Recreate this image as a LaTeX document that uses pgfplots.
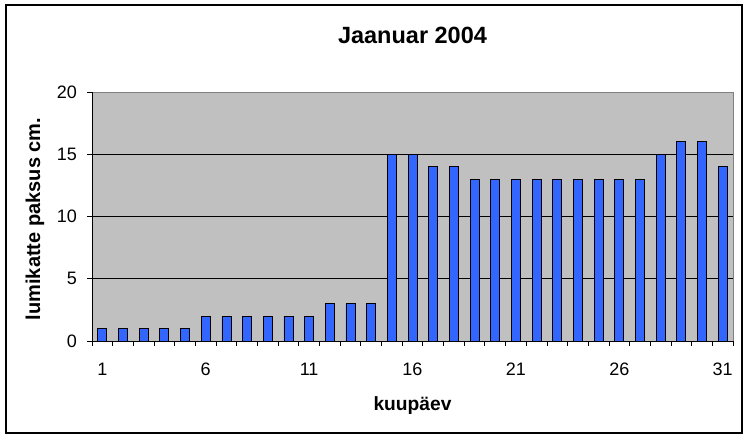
\documentclass[border=0pt]{standalone}
\usepackage{fontspec}
\setmainfont{Liberation Sans}
\usepackage{pgfplots}
\pgfplotsset{compat=1.18}
\definecolor{plotgray}{RGB}{192,192,192}
\definecolor{bordergray}{RGB}{128,128,128}
\definecolor{barblue}{RGB}{51,102,255}
\begin{document}
\begin{tikzpicture}[x=1pt,y=1pt]
\useasboundingbox (0,0) rectangle (748,438);
\draw[line width=1.2pt] (6,5) rectangle (742,433);
\begin{axis}[
  at={(92pt,97pt)}, anchor=south west,
  scale only axis, width=641pt, height=249pt,
  xmin=0.5, xmax=31.5, ymin=0, ymax=20,
  axis x line*=bottom, axis y line*=left,
  axis line style={black, line width=0.8pt},
  axis background/.style={fill=plotgray, draw=bordergray, line width=0.8pt},
  tick align=outside,
  xtick={0.5,1.5,...,31.5}, xticklabels={},
  extra x ticks={1,6,11,16,21,26,31},
  extra x tick labels={1,6,11,16,21,26,31},
  extra x tick style={major tick length=0pt},
  major tick length=5pt,
  ytick={0,5,10,15}, extra y ticks={20}, extra y tick style={ymajorgrids=false},
  ymajorgrids, grid style={black, line width=0.8pt},
  tick style={black, line width=0.8pt},
  /pgf/number format/assume math mode=true,
  xticklabel style={font=\fontsize{18}{20}\selectfont, anchor=base, yshift=-35pt, inner sep=0pt},
  yticklabel style={font=\fontsize{18}{20}\selectfont, anchor=east, inner sep=0pt, xshift=-10pt},
  title={Jaanuar 2004},
  title style={font=\bfseries\fontsize{23.5}{26}\selectfont, at={(0.5,1)}, anchor=base, yshift=42pt, inner sep=0pt},
  xlabel={kuupäev},
  xlabel style={font=\bfseries\fontsize{19.2}{22}\selectfont, at={(0.5,0)}, anchor=base, yshift=-70pt, inner sep=0pt},
  ylabel={lumikatte paksus cm.},
  ylabel style={font=\bfseries\fontsize{20}{22}\selectfont, at={(-0.0889,0.49)}, anchor=center, inner sep=0pt},
  ybar, bar width=9pt,
]
\addplot[fill=barblue, draw=black, line width=0.8pt] coordinates {
(1,1) (2,1) (3,1) (4,1) (5,1) (6,2) (7,2) (8,2) (9,2) (10,2)
(11,2) (12,3) (13,3) (14,3) (15,15) (16,15) (17,14) (18,14) (19,13) (20,13)
(21,13) (22,13) (23,13) (24,13) (25,13) (26,13) (27,13) (28,15) (29,16) (30,16) (31,14)
};
\end{axis}
\end{tikzpicture}
\end{document}
